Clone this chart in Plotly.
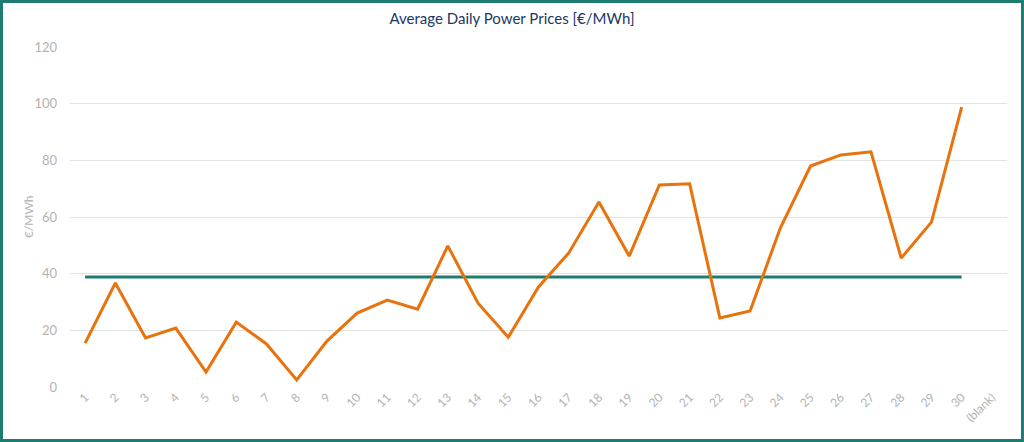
import plotly.graph_objects as go

# Dani u mjesecu (+ prazna kategorija kao u Excel pivotu)
days = [str(d) for d in range(1, 31)] + ["(blank)"]

# Prosjecna dnevna cijena [€/MWh]
daily_price = [15.5, 36.7, 17.3, 20.8, 5.3, 22.9, 15.2, 2.5, 16.2, 26.1,
               30.7, 27.5, 49.8, 29.6, 17.6, 35.3, 47.3, 65.3, 46.2, 71.3,
               71.7, 24.4, 26.8, 56.1, 78.0, 81.9, 83.0, 45.5, 58.2, 98.8, None]

# Prosjek razdoblja (vodoravna linija)
avg_price = [38.8] * 30 + [None]

y_ticks = [0, 20, 40, 60, 80, 100, 120]

orange = "#E8720C"
teal = "#1E7B70"
grey_txt = "#B3B3B3"

fig = go.Figure()

fig.add_trace(go.Scatter(
    x=days, y=avg_price, mode="lines",
    line=dict(color=teal, width=3), name="Average",
    hoverinfo="skip"
))

fig.add_trace(go.Scatter(
    x=days, y=daily_price, mode="lines",
    line=dict(color=orange, width=3), name="Daily price"
))

# okvir oko cijelog grafa
fig.add_shape(type="rect", xref="paper", yref="paper",
              x0=-0.0731, x1=1.0165, y0=-0.1574, y1=1.1338,
              line=dict(color=teal, width=3), layer="above")

# naslov y osi
fig.add_annotation(text="€/MWh", xref="paper", yref="paper",
                   x=-0.0448, y=0.5, textangle=-90, showarrow=False,
                   xanchor="center", yanchor="middle",
                   font=dict(size=12, color=grey_txt))

fig.update_layout(
    width=1024, height=442,
    margin=dict(l=70, r=17, t=47, b=55, autoexpand=False),
    paper_bgcolor="white", plot_bgcolor="white",
    showlegend=False,
    font=dict(family="Lato", size=12, color=grey_txt),
    title=dict(text="Average Daily Power Prices [€/MWh]",
               x=0.5, xref="container", xanchor="center",
               y=1 - 19 / 442, yanchor="middle", automargin=False,
               font=dict(family="Lato", size=15, color="#203864")),
)

fig.update_xaxes(
    type="category", categoryorder="array", categoryarray=days,
    range=[-0.5, 30.5], tickangle=-45, automargin=False,
    showgrid=False, showline=False, zeroline=False,
    ticks="", tickfont=dict(size=12, color=grey_txt)
)

fig.update_yaxes(
    range=[0, 120], tickvals=y_ticks, automargin=False,
    showgrid=True, gridcolor="#E3E3E3", gridwidth=1,
    zeroline=False, showline=False, ticks="",
    ticklabelstandoff=12,
    tickfont=dict(size=13, color=grey_txt)
)

# bez rubne margine stranice, da graf krene od (0,0)
fig.write_html("out.html", config={"displayModeBar": False},
               post_script="document.body.style.margin='0';")
